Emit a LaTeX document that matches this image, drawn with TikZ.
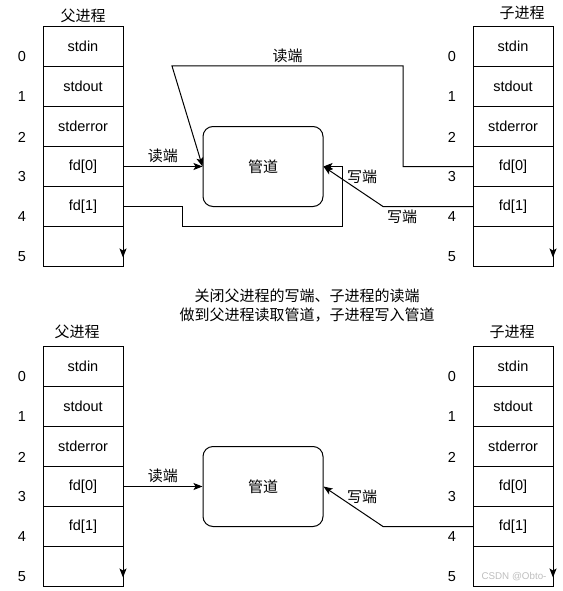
\documentclass[tikz,border=0pt]{standalone}
\usepackage{fontspec}
\setmainfont{Liberation Sans}
\newfontfamily\cjk{Noto Sans CJK SC}
\usetikzlibrary{arrows.meta,positioning}
\definecolor{inkblack}{RGB}{0,0,0}
\definecolor{markgray}{RGB}{190,190,190}
\tikzset{
  cell/.style={draw=inkblack,line width=1pt,minimum width=80pt,minimum height=40pt,
    inner sep=0pt,outer sep=0pt,font=\fontsize{14.5}{16}\selectfont},
  idx/.style={inner sep=0pt,font=\fontsize{14.5}{16}\selectfont},
  proc/.style={inner sep=0pt,font=\cjk\fontsize{15}{17}\selectfont},
  pipe/.style={draw=inkblack,line width=1pt,rounded corners=10pt,
    minimum width=120pt,minimum height=80pt,font=\cjk\fontsize{15}{17}\selectfont},
  lab/.style={inner sep=0pt,font=\cjk\fontsize{15}{17}\selectfont},
  note/.style={inner sep=0pt,align=center,font=\cjk\fontsize{15}{19}\selectfont},
  flow/.style={-{Stealth[length=9pt,width=7pt,inset=2pt]},line width=1pt,draw=inkblack},
  edgetip/.style={-{Stealth[length=9pt,width=7pt,inset=2pt]},line width=1pt,draw=inkblack},
  wmark/.style={inner sep=0pt,text=markgray,font=\fontsize{9.8}{11}\selectfont}
}
\begin{document}
\begin{tikzpicture}[x=1pt,y=-1pt]
  \useasboundingbox (0,0) rectangle (562,591);
  % fd tables of the two processes, before and after closing
  \foreach \t/\x/\n/\y in {p/83/22/0,c/513/452/0,q/83/22/320,d/513/452/320}{
    \foreach \lab [count=\i from 0] in {stdin,stdout,stderror,fd[0],fd[1],{}}{
      \node[cell] (\t\i) at (\x,{46.5+40*\i+\y}) {\lab};
      \node[idx] (\t n\i) at (\n,{57+40*\i+\y}) {\i};
    }
    \draw[edgetip] (\t5.north east) -- ([yshift=9pt]\t5.south east);
  }
  \node[proc] (ptitle) at (83,16) {父进程};
  \node[proc] (ctitle) at (522,13) {子进程};
  \node[proc] (qtitle) at (77,332) {父进程};
  \node[proc] (dtitle) at (512,332) {子进程};

  % before
  \node[pipe] (pipe) at (263,166.5) {管道};
  \coordinate (rdbend) at (172,66);
  \draw[flow] (p3.east) -- node[lab,above=3pt]{读端} (pipe.west);
  \draw[flow] (p4.east) -- ++(59,0) -- ++(0,20) -| ([xshift=19pt]pipe.east) -- (pipe.east);
  \draw[flow] (c3.west) -- ++(-70,0) |- node[lab,above=3pt,pos=0.75]{读端} (rdbend) -- (pipe.west);
  \draw[flow] (c4.west) -- ++(-90,0) -- (pipe.east);
  \node[lab] (wrlab) at (362,177) {写端};
  \node[lab] (wrlab2) at (402,217) {写端};

  \node[note] (closenote) at (307,305.5) {关闭父进程的写端、子进程的读端\\做到父进程读取管道，子进程写入管道};

  % after
  \node[pipe] (pipe2) at (263,486.5) {管道};
  \draw[flow] (q3.east) -- node[lab,above=3pt]{读端} (pipe2.west);
  \draw[flow] (d4.west) -- ++(-90,0) -- (pipe2.east);
  \node[lab] (wrlab3) at (362,497) {写端};

  \node[wmark] (csdn) at (514,577) {CSDN @Obto-};
\end{tikzpicture}
\end{document}
